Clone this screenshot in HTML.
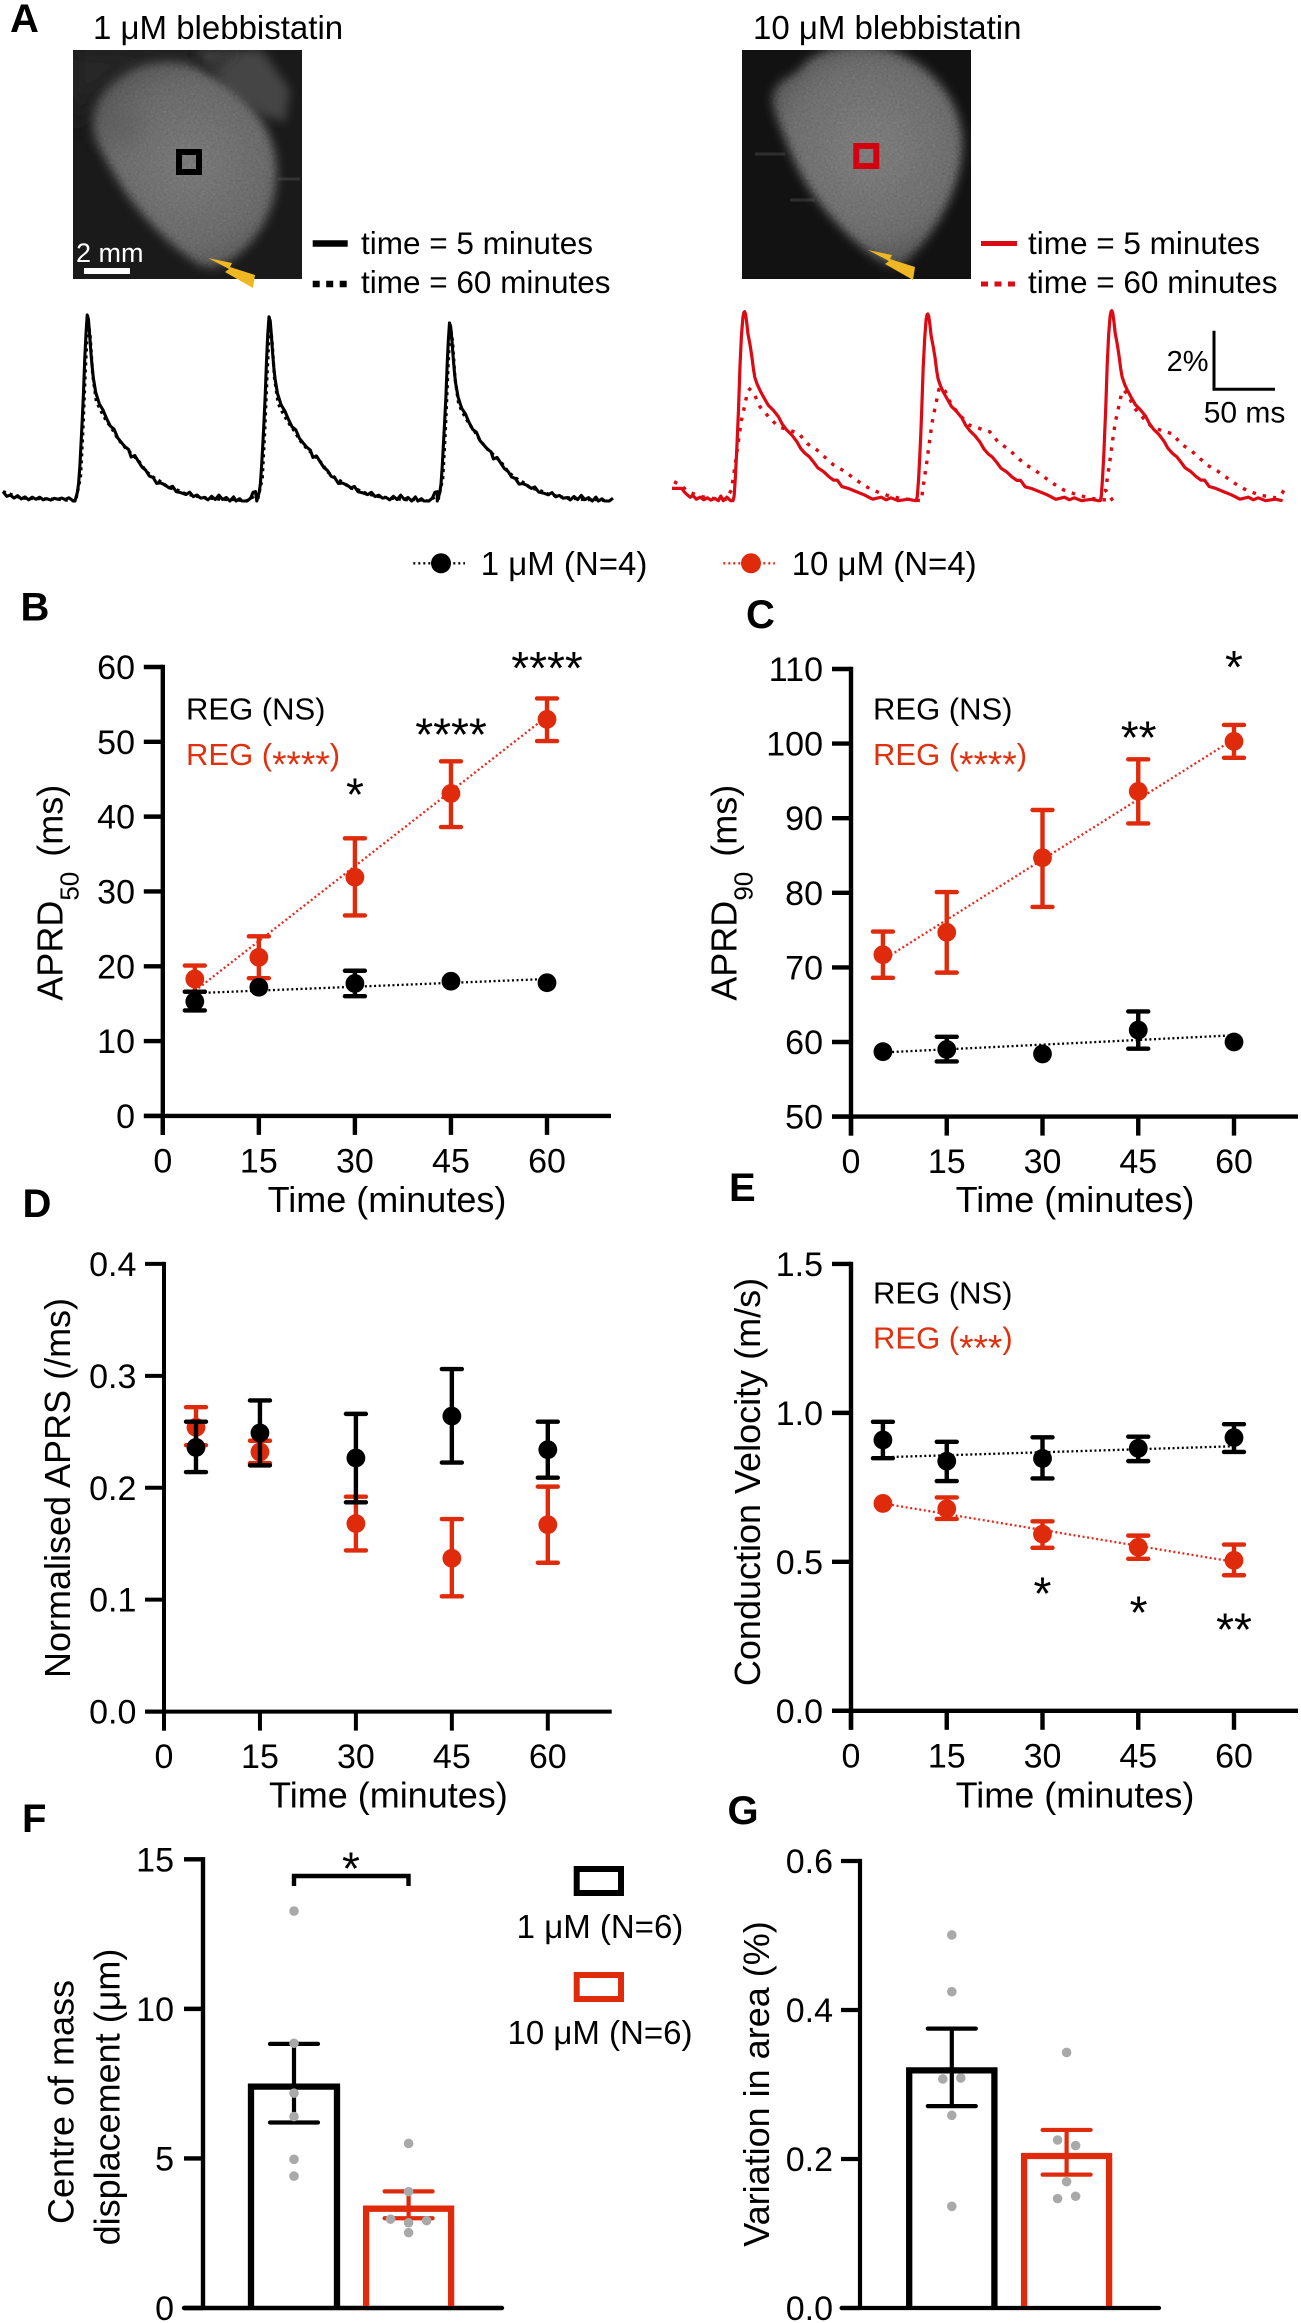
<!DOCTYPE html>
<html lang="en">
<head>
<meta charset="utf-8">
<title>Blebbistatin figure</title>
<style>
html,body{margin:0;padding:0;background:#fff;}
svg{display:block;font-family:"Liberation Sans",Arial,sans-serif;}
.tl{font-size:36px;}
.reg{font-size:31px;}
.ast{font-size:37px;}
.star{font-size:46px;text-anchor:middle;}
.pl{font-size:40px;font-weight:bold;}
.leg{font-size:33px;}
.tm{font-size:31.5px;}
</style>
</head>
<body>
<svg id="fig" width="1301" height="2323" viewBox="0 0 1301 2323">
<defs>
<clipPath id="clipL"><rect x="73" y="50" width="229" height="229"/></clipPath>
<clipPath id="clipR"><rect x="742" y="50" width="229" height="229"/></clipPath>
<filter id="blur5" x="-20%" y="-20%" width="140%" height="140%"><feGaussianBlur stdDeviation="5"/></filter>
<filter id="blur12" x="-40%" y="-40%" width="180%" height="180%"><feGaussianBlur stdDeviation="10"/></filter>
<filter id="grain" x="-10%" y="-10%" width="120%" height="120%">
<feGaussianBlur in="SourceGraphic" stdDeviation="5" result="b"/>
<feTurbulence type="fractalNoise" baseFrequency="0.45" numOctaves="2" seed="4" result="n0"/>
<feColorMatrix in="n0" type="saturate" values="0" result="n"/>
<feComposite in="b" in2="n" operator="arithmetic" k1="0.7" k2="0.78" k3="0" k4="0"/>
</filter>
<radialGradient id="heartL" gradientUnits="userSpaceOnUse" cx="190" cy="165" r="115"><stop offset="0" stop-color="#7c7c7c"/><stop offset="0.7" stop-color="#6c6c6c"/><stop offset="1" stop-color="#565656"/></radialGradient>
<radialGradient id="heartR" gradientUnits="userSpaceOnUse" cx="870" cy="150" r="120"><stop offset="0" stop-color="#808080"/><stop offset="0.7" stop-color="#707070"/><stop offset="1" stop-color="#555555"/></radialGradient>
</defs>

<!-- Panel A -->
<text class="pl" x="10" y="32">A</text>
<text x="93" y="39" font-size="33">1 μM blebbistatin</text>
<text x="753" y="39" font-size="33">10 μM blebbistatin</text>

<g clip-path="url(#clipL)">
<rect x="73" y="50" width="229" height="229" fill="#1a1a1a"/>
<path d="M73 50 H200 V70 C150 60 120 70 90 100 L73 130 Z" fill="#262626" filter="url(#blur12)"/>
<path d="M195 50 L262 50 L290 90 L285 122 L262 115 L225 85 Z" fill="#444" filter="url(#blur5)"/>
<path d="M278 179 H300" stroke="#333" stroke-width="3"/>
<path d="M128 72 C150 58 190 60 205 72 C240 90 268 118 275 155 C282 200 262 240 228 262 C215 270 200 268 190 258 C165 240 135 210 115 175 C100 150 88 130 97 105 C102 90 115 80 128 72 Z" fill="url(#heartL)" filter="url(#grain)"/>
<ellipse cx="120" cy="125" rx="22" ry="18" fill="#5c5c5c" opacity=".6" filter="url(#blur12)"/>
<path d="M205 62 L240 50 L215 72 Z" fill="#2c2c2c" filter="url(#blur5)" opacity=".8"/>
</g>
<rect x="179" y="152" width="20" height="20" fill="none" stroke="#000" stroke-width="6"/>
<rect x="84" y="268" width="46" height="6" fill="#fff"/>
<text x="76" y="262" font-size="27" fill="#fff">2 mm</text>
<polygon points="208,258 232,263 230,267 255,275 253,288 225,272 229,269" fill="#efb822"/>

<g clip-path="url(#clipR)">
<rect x="742" y="50" width="229" height="229" fill="#121212"/>
<path d="M755 154 H785 M790 200 H815" stroke="#2e2e2e" stroke-width="3"/>
<path d="M800 70 C815 44 870 40 900 54 C940 72 965 110 962 150 C960 190 935 235 905 262 C895 270 880 262 868 252 C835 225 805 190 790 150 C778 120 768 100 775 90 C782 78 790 78 800 70 Z" fill="url(#heartR)" filter="url(#grain)"/>
</g>
<rect x="856.3" y="146" width="20" height="20" fill="none" stroke="#d4000f" stroke-width="6"/>
<polygon points="868,250 892,255 890,259 915,267 913,280 885,264 889,261" fill="#efb822"/>

<line x1="312.7" y1="243.5" x2="347.7" y2="243.5" stroke="#000" stroke-width="6.5"/>
<line x1="312.7" y1="284" x2="347" y2="284" stroke="#000" stroke-width="6.5" stroke-dasharray="7 6.5"/>
<text class="tm" x="361" y="254">time = 5 minutes</text>
<text class="tm" x="361" y="293">time = 60 minutes</text>
<line x1="981" y1="243.5" x2="1017" y2="243.5" stroke="#dc0a12" stroke-width="5"/>
<line x1="981" y1="284" x2="1017" y2="284" stroke="#dc0a12" stroke-width="5" stroke-dasharray="7 6.5"/>
<text class="tm" x="1028" y="254">time = 5 minutes</text>
<text class="tm" x="1028" y="293">time = 60 minutes</text>

<g id="traces"></g>
<path d="M1214 330.7 V389.3 H1275" fill="none" stroke="#000" stroke-width="3"/>
<text x="1208.6" y="371" font-size="29" text-anchor="end">2%</text>
<text x="1203.7" y="422.7" font-size="30">50 ms</text>

<!-- Series legend -->
<line x1="413.3" y1="563.3" x2="465" y2="563.3" stroke="#000" stroke-width="2.4" stroke-dasharray="2 3"/>
<circle cx="441" cy="563.3" r="10" fill="#000"/>
<text class="leg" x="480.7" y="575">1 μM (N=4)</text>
<line x1="723.3" y1="563.3" x2="775" y2="563.3" stroke="#e8281a" stroke-width="2.4" stroke-dasharray="2 3"/>
<circle cx="751" cy="563.3" r="10" fill="#df2b0b"/>
<text class="leg" x="791.7" y="575">10 μM (N=4)</text>

<!-- Panel B -->
<text class="pl" x="20.5" y="620.7">B</text>
<g id="panelB"></g>
<text class="tl" x="62.5" y="1000.7" transform="rotate(-90 62.5 1000.7)">APRD<tspan dy="16" font-size="26">50</tspan><tspan dy="-16" dx="15">(ms)</tspan></text>
<text class="tl" x="387" y="1212" text-anchor="middle">Time (minutes)</text>
<text class="reg" x="186" y="719.7">REG (NS)</text>
<text class="reg" x="186" y="764.8" fill="#e0300e">REG (<tspan class="ast" dy="12">****</tspan><tspan dy="-12">)</tspan></text>
<text class="star" x="355" y="810.5">*</text>
<text class="star" x="451" y="750.7">****</text>
<text class="star" x="547" y="684">****</text>

<!-- Panel C -->
<text class="pl" x="746" y="628">C</text>
<g id="panelC"></g>
<text class="tl" x="736.7" y="1000.7" transform="rotate(-90 736.7 1000.7)">APRD<tspan dy="16" font-size="26">90</tspan><tspan dy="-16" dx="15">(ms)</tspan></text>
<text class="tl" x="1075" y="1212" text-anchor="middle">Time (minutes)</text>
<text class="reg" x="873" y="719.7">REG (NS)</text>
<text class="reg" x="873" y="764.8" fill="#e0300e">REG (<tspan class="ast" dy="12">****</tspan><tspan dy="-12">)</tspan></text>
<text class="star" x="1138.6" y="753.7">**</text>
<text class="star" x="1234" y="683.2">*</text>

<!-- Panel D -->
<text class="pl" x="22.5" y="1217">D</text>
<g id="panelD"></g>
<text class="tl" x="70" y="1488" text-anchor="middle" transform="rotate(-90 70 1488)">Normalised APRS (/ms)</text>
<text class="tl" x="388.4" y="1807.5" text-anchor="middle">Time (minutes)</text>

<!-- Panel E -->
<text class="pl" x="729" y="1201">E</text>
<g id="panelE"></g>
<text class="tl" x="760" y="1482" text-anchor="middle" transform="rotate(-90 760 1482)">Conduction Velocity (m/s)</text>
<text class="tl" x="1075" y="1807.5" text-anchor="middle">Time (minutes)</text>
<text class="reg" x="873" y="1303.4">REG (NS)</text>
<text class="reg" x="873" y="1348.5" fill="#e0300e">REG (<tspan class="ast" dy="12">***</tspan><tspan dy="-12">)</tspan></text>
<text class="star" x="1042.5" y="1609.7">*</text>
<text class="star" x="1138.6" y="1628.4">*</text>
<text class="star" x="1234" y="1645.3">**</text>

<!-- Panel F -->
<text class="pl" x="22" y="1832">F</text>
<g id="panelF"></g>
<text class="tl" x="73.7" y="2102" text-anchor="middle" transform="rotate(-90 73.7 2102)">Centre of mass</text>
<text class="tl" x="119.6" y="2097" text-anchor="middle" transform="rotate(-90 119.6 2097)">displacement (μm)</text>
<path d="M294 1886 V1876 H408.5 V1886" fill="none" stroke="#000" stroke-width="4.4"/>
<text class="star" x="351" y="1884.7">*</text>
<rect x="576.7" y="1869" width="44.3" height="24" fill="none" stroke="#000" stroke-width="6"/>
<text class="leg" x="600" y="1938" text-anchor="middle">1 μM (N=6)</text>
<rect x="576.7" y="1975" width="44.3" height="24" fill="none" stroke="#df2b0b" stroke-width="6"/>
<text class="leg" x="600" y="2044" text-anchor="middle">10 μM (N=6)</text>

<!-- Panel G -->
<text class="pl" x="727.5" y="1824">G</text>
<g id="panelG"></g>
<text class="tl" x="769" y="2084" text-anchor="middle" transform="rotate(-90 769 2084)">Variation in area (%)</text>
</svg>

<script>
// ---------- shared axis data ----------
const timePoints = [5, 15, 30, 45, 60];
const fitTimes = [5, 60];
const xTickValues = [0, 15, 30, 45, 60];
const xTickLabels = ['0', '15', '30', '45', '60'];

// ---------- panel B ----------
const bYTicks = [0, 10, 20, 30, 40, 50, 60];
const bYLabels = ['0', '10', '20', '30', '40', '50', '60'];
const bBlackMean = [15.3, 17.2, 17.7, 18.0, 17.8];
const bBlackUpper = [16.6, null, 19.4, null, null];
const bBlackLower = [14.1, null, 16.0, null, null];
const bRedMean = [18.3, 21.2, 31.9, 43.1, 53.0];
const bRedUpper = [20.1, 24.0, 37.1, 47.4, 55.8];
const bRedLower = [16.6, 18.4, 26.8, 38.6, 50.1];
const bBlackFit = [16.4, 18.3];
const bRedFit = [16.7, 53.4];

// ---------- panel C ----------
const cYTicks = [50, 60, 70, 80, 90, 100, 110];
const cYLabels = ['50', '60', '70', '80', '90', '100', '110'];
const cBlackMean = [58.7, 59.0, 58.4, 61.6, 60.0];
const cBlackUpper = [null, 60.7, null, 64.1, null];
const cBlackLower = [null, 57.4, null, 59.1, null];
const cRedMean = [71.7, 74.7, 84.7, 93.6, 100.3];
const cRedUpper = [74.8, 80.1, 91.1, 97.9, 102.5];
const cRedLower = [68.6, 69.3, 78.1, 89.3, 98.1];
const cBlackFit = [58.6, 60.9];
const cRedFit = [71.0, 100.6];

// ---------- panel D ----------
const dYTicks = [0, 0.1, 0.2, 0.3, 0.4];
const dYLabels = ['0.0', '0.1', '0.2', '0.3', '0.4'];
const dBlackMean = [0.236, 0.249, 0.2266, 0.264, 0.234];
const dBlackUpper = [0.259, 0.278, 0.266, 0.306, 0.259];
const dBlackLower = [0.214, 0.220, 0.187, 0.2225, 0.209];
const dRedMean = [0.254, 0.232, 0.168, 0.137, 0.167];
const dRedUpper = [0.272, 0.242, 0.192, 0.172, 0.201];
const dRedLower = [0.238, 0.222, 0.144, 0.103, 0.133];

// ---------- panel E ----------
const eYTicks = [0, 0.5, 1.0, 1.5];
const eYLabels = ['0.0', '0.5', '1.0', '1.5'];
const eBlackMean = [0.909, 0.838, 0.847, 0.881, 0.917];
const eBlackUpper = [0.97, 0.903, 0.918, 0.92, 0.962];
const eBlackLower = [0.848, 0.771, 0.78, 0.838, 0.869];
const eRedMean = [0.696, 0.678, 0.593, 0.549, 0.505];
const eRedUpper = [null, 0.716, 0.636, 0.588, 0.558];
const eRedLower = [null, 0.644, 0.547, 0.51, 0.455];
const eBlackFit = [0.851, 0.888];
const eRedFit = [0.696, 0.5];

// ---------- panel F ----------
const fYTicks = [0, 5, 10, 15];
const fYLabels = ['0', '5', '10', '15'];
const fBarValues = [7.4, 3.32];
const fBarUpper = [8.83, 3.9];
const fBarLower = [6.2, 3.0];
const fBlackPoints = [13.27, 8.85, 7.18, 6.4, 4.97, 4.41];
const fRedPoints = [5.5, 3.89, 2.97, 2.92, 2.85, 2.52];
const fBlackJitter = [0, 0, 0, 0, 0, 0];
const fRedJitter = [0, 0, -1, 1, 0, 0];

// ---------- panel G ----------
const gYTicks = [0, 0.2, 0.4, 0.6];
const gYLabels = ['0.0', '0.2', '0.4', '0.6'];
const gBarValues = [0.319, 0.204];
const gBarUpper = [0.375, 0.239];
const gBarLower = [0.271, 0.179];
const gBlackPoints = [0.5007, 0.4246, 0.3074, 0.3087, 0.2586, 0.1365];
const gRedPoints = [0.343, 0.2255, 0.218, 0.1696, 0.1468, 0.15];
const gBlackJitter = [0, 0, -1, 1, 0, 0];
const gRedJitter = [0, -1, 1, 0, -1, 1];

// ---------- panel A traces: [time ms, signal %] ----------
const blackPrefix = [[0,.32],[3,.16],[6,.2],[9,.1],[12,.18],[15,.07],[18,.14],[21,.04],[24,.13],[27,.06],[30,.13],[33,.04],[36,.08],[39,.03],[42,.09],[45,.06],[48,.1],[51,.05],[54,.11],[57,.02]];
const blackBeat = [[-10,0],[-8,.3],[-7,.6],[-6,1.2],[-5,2],[-4,2.8],[-3,3.7],[-2,4.8],[-1,5.7],[0,6.34],[1,6.2],[2,5.7],[3,5.1],[4,4.6],[5,4.2],[7,3.7],[10,3.3],[13,3.1],[16,2.8],[19,2.55],[22,2.45],[25,2.15],[28,2.0],[31,1.85],[34,1.75],[36,1.5],[39,1.55],[42,1.35],[45,1.15],[48,1.05],[51,.85],[54,.8],[57,.6],[60,.62],[64,.55],[67,.45],[70,.5],[73,.32],[77,.28],[81,.22],[84,.3],[87,.15],[90,.2],[93,.1],[96,.12],[99,.04],[102,.16],[105,.05],[108,.2],[111,.05],[114,.12],[117,0],[120,.14],[122,0],[125,.08],[127,0],[131,0],[134,.1],[136,.3],[138,.32]];
const blackPeaks = [69, 218, 366];
const blackScales = [1, 0.99, 0.957];
const blackDottedPrefix = [[0,.32],[15,.1],[30,.08],[45,.06],[59,0]];
const blackDottedBeat = [[-10,0],[-6,.8],[-4,2.4],[-2,4.4],[0,6.2],[2,5.6],[4,4.3],[7,3.4],[11,3.05],[15,2.75],[20,2.45],[25,2.1],[30,1.85],[36,1.6],[42,1.35],[48,1.0],[54,.8],[60,.65],[66,.45],[72,.4],[80,.25],[90,.15],[100,.1],[110,.05],[120,.05],[130,0],[138,.2]];
const blackDottedPeaks = [69.5, 218.5, 366.5];
const blackDottedScales = [1, 0.98, 0.97];
const redPrefix = [[0,.42],[8,.42],[10,.3],[12,.22],[15,.12],[17,.18],[20,.05],[23,.12],[26,.03],[29,.1],[32,.02],[35,.08],[38,0],[40,.16],[42,0],[45,.12],[48,0]];
const redBeat = [[-9.5,0],[-8.6,.15],[-7.6,.75],[-6.6,1.55],[-5.8,2.3],[-5,3.1],[-3.8,4.6],[-2.6,5.6],[-1.4,6.25],[-.6,6.42],[0,6.44],[.8,6.35],[1.8,6.05],[2.7,5.7],[4.5,5.3],[6,4.9],[7.2,4.5],[8.4,4.2],[10.5,3.95],[12.7,3.75],[16,3.5],[19.4,3.25],[23.5,3.08],[27.8,2.86],[31,2.6],[34.5,2.41],[38.5,2.25],[42.9,2.01],[46,1.78],[49.6,1.61],[53,1.5],[56.3,1.33],[60,1.12],[64.7,.99],[69,.82],[73,.7],[76,.7],[79.8,.48],[85,.42],[91.5,.31],[98,.2],[105,.05],[112,.12],[116,.03],[120,.1],[126,0],[134,.05],[140,0]];
const redPeaks = [59.5, 209.7, 360.5];
const redScales = [1, 0.988, 1.005];
const redDottedPrefix = [[1.7,.65],[8,.5],[12,.35],[17,.25],[23,.15],[30,.1],[38,.05],[44,.05]];
const redDottedBeat = [[-15,.36],[-11.7,1.27],[-8.4,2.3],[-6.7,2.75],[-4,3.26],[-1.7,3.72],[0,3.8],[3.4,3.66],[8.4,3.2],[16.8,2.8],[23.5,2.52],[40,2.3],[47,1.95],[55,1.73],[68.7,1.22],[77,1.02],[85.5,.76],[92,.57],[100.5,.36],[112,.19],[124,.07],[140.8,0]];
const redDottedPeaks = [63.7, 220.5, 370.3];
const redDottedScales = [1, 1.02, 0.99];
const redDottedSuffix = [[495,.1],[500,.25],[502,.39]];

// ---------- helpers ----------
const SVG_NS = 'http://www.w3.org/2000/svg';
const RED = '#df2b0b';
const BLACK = '#000';

function mk(tag, attrs, parent) {
  const el = document.createElementNS(SVG_NS, tag);
  Object.keys(attrs).forEach(function (k) { el.setAttribute(k, attrs[k]); });
  parent.appendChild(el);
  return el;
}
function linearScale(d0, d1, r0, r1) {
  return function (v) { return r0 + (v - d0) * (r1 - r0) / (d1 - d0); };
}

function drawYAxis(g, yScale, values, labels, axisX, bottomY, sw, tickLen, labelGap) {
  const topY = yScale(values[values.length - 1]);
  const axis = mk('line', {x1: axisX, x2: axisX, y1: topY - sw / 2, y2: bottomY, stroke: BLACK, 'stroke-width': sw}, g);
  
  
  values.forEach(function (v, i) {
    const y = yScale(v);
    const tick = mk('line', {x1: axisX - tickLen, x2: axisX, y1: y, y2: y, stroke: BLACK, 'stroke-width': sw}, g);
    
    
    const lab = mk('text', {x: axisX - labelGap, y: y + 12, 'text-anchor': 'end', 'font-size': 34}, g);
    lab.textContent = labels[i];
    
    
  });
}

function drawTimeAxis(g, xScale, axisY, leftX, endX, sw) {
  const axis = mk('line', {x1: leftX, x2: endX, y1: axisY, y2: axisY, stroke: BLACK, 'stroke-width': sw}, g);
  
  
  xTickValues.forEach(function (v, i) {
    const x = xScale(v);
    const tick = mk('line', {x1: x, x2: x, y1: axisY, y2: axisY + 19, stroke: BLACK, 'stroke-width': sw}, g);
    
    
    const lab = mk('text', {x: x, y: axisY + 56.5, 'text-anchor': 'middle', 'font-size': 34}, g);
    lab.textContent = xTickLabels[i];
    
    
  });
}

function drawFit(g, xScale, yScale, fit, color) {
  const l = mk('line', {x1: xScale(fitTimes[0]), y1: yScale(fit[0]), x2: xScale(fitTimes[1]), y2: yScale(fit[1]), stroke: color, 'stroke-width': 2.3, 'stroke-dasharray': '2 2.6'}, g);
  
  
}

function drawSeries(g, xScale, yScale, mean, upper, lower, color) {
  timePoints.forEach(function (t, i) {
    const x = xScale(t);
    if (upper[i] !== null) {
      const yu = yScale(upper[i]);
      const yl = yScale(lower[i]);
      const err = mk('path', {d: 'M' + (x - 10) + ' ' + yu + 'H' + (x + 10) + 'M' + x + ' ' + yu + 'V' + yl + 'M' + (x - 10) + ' ' + yl + 'H' + (x + 10), fill: 'none', stroke: color, 'stroke-width': 4.4, 'stroke-linecap': 'round'}, g);
      
      
    }
    const dot = mk('circle', {cx: x, cy: yScale(mean[i]), r: 9.4, fill: color}, g);
    
    
  });
}

function drawBar(g, cx, halfW, yScale, value, upper, lower, color, zero, points, jitter, jitterStep) {
  const yTop = yScale(value);
  const bar = mk('path', {d: 'M' + (cx - halfW) + ' ' + zero + 'V' + yTop + 'H' + (cx + halfW) + 'V' + zero, fill: 'none', stroke: color, 'stroke-width': 6.3}, g);
  
  
  const yu = yScale(upper);
  const yl = yScale(lower);
  const err = mk('path', {d: 'M' + (cx - 24) + ' ' + yu + 'H' + (cx + 24) + 'M' + cx + ' ' + yu + 'V' + yl + 'M' + (cx - 24) + ' ' + yl + 'H' + (cx + 24), fill: 'none', stroke: color, 'stroke-width': 4.2, 'stroke-linecap': 'round'}, g);
  
  
  points.forEach(function (v, i) {
    const dot = mk('circle', {cx: cx + jitter[i] * jitterStep, cy: yScale(v), r: 4.8, fill: '#a9a9a9'}, g);
    
    
  });
}

function beatPoints(prefix, shape, peaks, scales, endT, suffix) {
  const pts = prefix.slice();
  peaks.forEach(function (p, i) {
    shape.forEach(function (pt) {
      if (p + pt[0] <= endT) pts.push([p + pt[0], pt[1] * scales[i]]);
    });
  });
  return pts.concat(suffix);
}
function pathFrom(pts, xf, yf) {
  return 'M' + pts.map(function (p) { return xf(p[0]).toFixed(1) + ' ' + yf(p[1]).toFixed(1); }).join('L');
}

// ---------- panel A traces ----------
const tracesG = document.getElementById('traces');
const blackTraceX = linearScale(0, 100, 3, 125);
const blackTraceY = linearScale(0, 2, 501, 442.3);
const redTraceX = linearScale(0, 100, 672, 794);
const redTraceY = linearScale(0, 2, 500.7, 442);

const tBlackDotted = mk('path', {d: pathFrom(beatPoints(blackDottedPrefix, blackDottedBeat, blackDottedPeaks, blackDottedScales, 501.6, []), blackTraceX, blackTraceY), fill: 'none', stroke: '#000', 'stroke-width': 3.2, 'stroke-dasharray': '3 4'}, tracesG);


const tBlackSolid = mk('path', {d: pathFrom(beatPoints(blackPrefix, blackBeat, blackPeaks, blackScales, 501.6, []), blackTraceX, blackTraceY), fill: 'none', stroke: '#000', 'stroke-width': 3.1, 'stroke-linejoin': 'round'}, tracesG);


const tRedDotted = mk('path', {d: pathFrom(beatPoints(redDottedPrefix, redDottedBeat, redDottedPeaks, redDottedScales, 492, redDottedSuffix), redTraceX, redTraceY), fill: 'none', stroke: '#dc0a12', 'stroke-width': 3.4, 'stroke-dasharray': '3.5 7'}, tracesG);


const tRedSolid = mk('path', {d: pathFrom(beatPoints(redPrefix, redBeat, redPeaks, redScales, 503, []), redTraceX, redTraceY), fill: 'none', stroke: '#dc0a12', 'stroke-width': 3.2, 'stroke-linejoin': 'round'}, tracesG);



// ---------- panel B ----------
const bG = document.getElementById('panelB');
const bX = linearScale(0, 60, 162.8, 547);
const bY = linearScale(0, 60, 1115.9, 667);
drawYAxis(bG, bY, bYTicks, bYLabels, 162.8, 1135, 4.4, 19, 27.8);
drawTimeAxis(bG, bX, bY(0), 144, 611, 4.4);
drawFit(bG, bX, bY, bRedFit, '#e8281a');
drawFit(bG, bX, bY, bBlackFit, '#000');
drawSeries(bG, bX, bY, bRedMean, bRedUpper, bRedLower, RED);
drawSeries(bG, bX, bY, bBlackMean, bBlackUpper, bBlackLower, BLACK);

// ---------- panel C ----------
const cG = document.getElementById('panelC');
const cX = linearScale(0, 60, 851, 1234);
const cY = linearScale(50, 110, 1116.6, 669);
drawYAxis(cG, cY, cYTicks, cYLabels, 851, 1135.6, 4.4, 19, 28);
drawTimeAxis(cG, cX, cY(50), 832, 1298, 4.4);
drawFit(cG, cX, cY, cRedFit, '#e8281a');
drawFit(cG, cX, cY, cBlackFit, '#000');
drawSeries(cG, cX, cY, cRedMean, cRedUpper, cRedLower, RED);
drawSeries(cG, cX, cY, cBlackMean, cBlackUpper, cBlackLower, BLACK);

// ---------- panel D ----------
const dG = document.getElementById('panelD');
const dX = linearScale(0, 60, 164, 547.8);
const dY = linearScale(0, 0.4, 1711.6, 1263.9);
drawYAxis(dG, dY, dYTicks, dYLabels, 164, 1730.6, 4, 19, 27.6);
drawTimeAxis(dG, dX, dY(0), 145.6, 611.7, 4);
drawSeries(dG, dX, dY, dRedMean, dRedUpper, dRedLower, RED);
drawSeries(dG, dX, dY, dBlackMean, dBlackUpper, dBlackLower, BLACK);

// ---------- panel E ----------
const eG = document.getElementById('panelE');
const eX = linearScale(0, 60, 851, 1234);
const eY = linearScale(0, 1.5, 1710.8, 1263.9);
drawYAxis(eG, eY, eYTicks, eYLabels, 851, 1729.8, 4.4, 19, 28);
drawTimeAxis(eG, eX, eY(0), 832, 1298, 4.4);
drawFit(eG, eX, eY, eRedFit, '#e8281a');
drawFit(eG, eX, eY, eBlackFit, '#000');
drawSeries(eG, eX, eY, eRedMean, eRedUpper, eRedLower, RED);
drawSeries(eG, eX, eY, eBlackMean, eBlackUpper, eBlackLower, BLACK);

// ---------- panel F ----------
const fG = document.getElementById('panelF');
const fY = linearScale(0, 15, 2308, 1859.3);
drawYAxis(fG, fY, fYTicks, fYLabels, 203, 2308, 4.4, 19, 29);
const fAxis = mk('line', {x1: 184, x2: 502, y1: 2308, y2: 2308, stroke: BLACK, 'stroke-width': 4.4, 'stroke-linecap': 'round'}, fG);


drawBar(fG, 294, 43, fY, fBarValues[0], fBarUpper[0], fBarLower[0], BLACK, 2306, fBlackPoints, fBlackJitter, 18);
drawBar(fG, 408.6, 42.5, fY, fBarValues[1], fBarUpper[1], fBarLower[1], RED, 2306, fRedPoints, fRedJitter, 18);

// ---------- panel G ----------
const gG = document.getElementById('panelG');
const gY = linearScale(0, 0.6, 2308, 1861);
drawYAxis(gG, gY, gYTicks, gYLabels, 860, 2308, 4.2, 19, 27);
const gAxis = mk('line', {x1: 841.6, x2: 1159, y1: 2308, y2: 2308, stroke: BLACK, 'stroke-width': 4.2, 'stroke-linecap': 'round'}, gG);


drawBar(gG, 951.8, 42.6, gY, gBarValues[0], gBarUpper[0], gBarLower[0], BLACK, 2306, gBlackPoints, gBlackJitter, 9);
drawBar(gG, 1066.6, 42.5, gY, gBarValues[1], gBarUpper[1], gBarLower[1], RED, 2306, gRedPoints, gRedJitter, 9);
</script>
</body>
</html>
